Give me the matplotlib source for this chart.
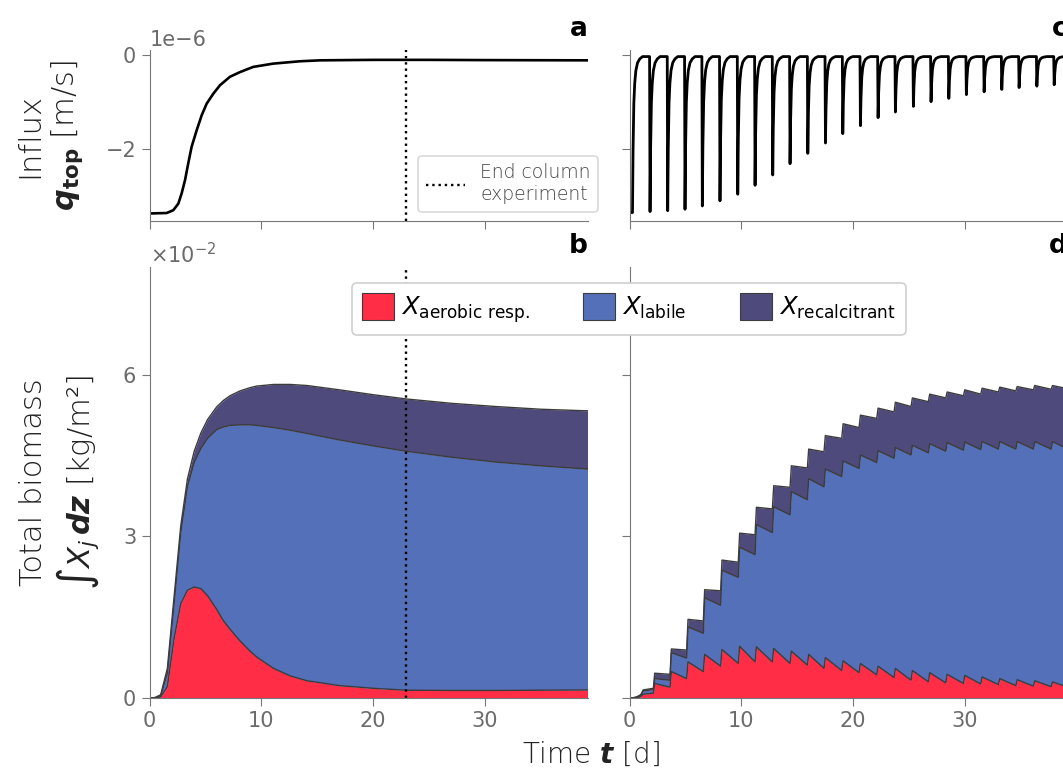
import matplotlib
matplotlib.use("Agg")
import matplotlib.pyplot as plt
from matplotlib.ticker import ScalarFormatter, FixedLocator

# ---- panel a: influx during column experiment, units of 1e-6 m/s
a_time = [0, 1.54, 2.13, 2.58, 2.88, 3.18, 3.47, 3.77, 4.22, 4.67, 5.12, 5.71,
          6.31, 7.2, 8.1, 9.28, 11.07, 13.46, 15.25, 20.0, 25.0, 30.0, 39.2]
a_qtop = [-3.38, -3.37, -3.31, -3.17, -2.95, -2.67, -2.31, -1.96, -1.61, -1.29,
          -1.04, -0.83, -0.65, -0.47, -0.37, -0.26, -0.19, -0.14, -0.12, -0.11,
          -0.11, -0.115, -0.12]
end_column = 23.0

# ---- panel c: pulsed influx (troughs of each pulse), units of 1e-6 m/s
c_trough_t = [1.82, 3.40, 4.95, 6.50, 8.08, 9.67, 11.22, 12.80, 14.35, 15.94,
              17.52, 19.07, 20.65, 22.23, 23.78, 25.39, 26.97, 28.56, 30.13,
              31.72, 33.30, 34.85, 36.44, 37.99]
c_trough_q = [-3.34, -3.32, -3.29, -3.22, -3.11, -2.97, -2.78, -2.56, -2.32,
              -2.10, -1.88, -1.68, -1.51, -1.34, -1.22, -1.10, -1.00, -0.93,
              -0.85, -0.79, -0.74, -0.70, -0.67, -0.64]
c_start_q = -3.36
c_plateau = -0.04
# recovery after each trough (days after trough, fraction of depth left)
spike_dt = [0, 0.05, 0.12, 0.2, 0.3, 0.45, 0.65, 0.9]
spike_frac = [1, 0.6, 0.3, 0.17, 0.09, 0.04, 0.015, 0]

# ---- panel b: total biomass, units of 1e-2 kg/m2 (top of each stacked layer)
b_time = [0, 0.5, 1.0, 1.6, 2.2, 2.8, 3.4, 4.0, 4.6, 5.2, 6.0, 6.6, 7.2, 8.1,
          9.0, 9.6, 11.1, 12.6, 14.1, 17.0, 20.0, 23.0, 27.0, 31.0, 35.0, 39.2]
b_aerobic_top = [0, 0, 0.02, 0.21, 1.10, 1.75, 2.00, 2.06, 2.03, 1.90, 1.65,
                 1.44, 1.28, 1.06, 0.87, 0.76, 0.55, 0.41, 0.32, 0.23, 0.18,
                 0.145, 0.14, 0.14, 0.145, 0.15]
b_labile_top = [0, 0.005, 0.04, 0.46, 1.75, 3.08, 3.93, 4.37, 4.63, 4.82, 4.98,
                5.03, 5.06, 5.07, 5.07, 5.06, 5.02, 4.97, 4.91, 4.79, 4.68,
                4.58, 4.47, 4.38, 4.31, 4.25]
b_total = [0, 0.01, 0.06, 0.55, 1.88, 3.20, 4.07, 4.58, 4.92, 5.17, 5.40, 5.52,
           5.61, 5.70, 5.76, 5.79, 5.82, 5.82, 5.80, 5.72, 5.63, 5.55, 5.47,
           5.41, 5.36, 5.33]

# ---- panel d: pulsed biomass, units of 1e-2 kg/m2
d_init_t = [0, 0.3, 0.6, 0.9, 1.05, 1.2]
d_init_aer = [0, 0, 0.005, 0.02, 0.04, 0.07]
d_init_lab = [0, 0.002, 0.015, 0.04, 0.07, 0.13]
d_init_tot = [0, 0.003, 0.02, 0.05, 0.08, 0.15]
d_init_end = [0.09, 0.16, 0.18]  # aer, lab, tot just before first big pulse
d_jump_t = [2.12, 3.61, 5.10, 6.59, 8.14, 9.72, 11.22, 12.77, 14.35, 15.90,
            17.39, 18.98, 20.53, 22.11, 23.66, 25.18, 26.73, 28.29, 29.87,
            31.42, 33.00, 34.56, 36.13, 37.72]
d_aer_after = [0.27, 0.49, 0.67, 0.81, 0.90, 0.96, 0.95, 0.92, 0.87, 0.81,
               0.75, 0.69, 0.64, 0.59, 0.55, 0.51, 0.47, 0.44, 0.42, 0.39,
               0.36, 0.34, 0.32, 0.30]
d_aer_before = [0.20, 0.36, 0.49, 0.59, 0.64, 0.67, 0.67, 0.64, 0.61, 0.55,
                0.51, 0.47, 0.43, 0.38, 0.33, 0.30, 0.28, 0.27, 0.26, 0.25,
                0.23, 0.22, 0.21, 0.20]
d_lab_after = [0.36, 0.84, 1.32, 1.86, 2.37, 2.80, 3.22, 3.55, 3.83, 4.07,
               4.25, 4.40, 4.51, 4.59, 4.65, 4.69, 4.72, 4.74, 4.75, 4.76,
               4.76, 4.76, 4.76, 4.76]
d_lab_before = [0.33, 0.74, 1.20, 1.72, 2.24, 2.66, 3.07, 3.40, 3.68, 3.92,
                4.11, 4.26, 4.37, 4.45, 4.51, 4.55, 4.58, 4.60, 4.61, 4.62,
                4.62, 4.62, 4.62, 4.62]
d_tot_after = [0.46, 0.91, 1.46, 2.01, 2.56, 3.06, 3.54, 3.94, 4.31, 4.62,
               4.87, 5.09, 5.25, 5.38, 5.49, 5.57, 5.64, 5.68, 5.72, 5.75,
               5.77, 5.78, 5.80, 5.80]
d_tot_before = [0.44, 0.89, 1.43, 1.99, 2.52, 3.03, 3.51, 3.91, 4.27, 4.57,
                4.82, 5.02, 5.19, 5.31, 5.41, 5.50, 5.57, 5.61, 5.64, 5.68,
                5.70, 5.72, 5.73, 5.74]

t_end = 39.2
q_scale = 1e-6
bio_scale = 1e-2
labels = [r'$X_\mathrm{aerobic\ resp.}$', r'$X_\mathrm{labile}$',
          r'$X_\mathrm{recalcitrant}$']
colors = ['#ff2d46', '#5470b8', '#4e4a7c']
edge = '#3c3c3c'
gray = '#6b6b6b'
thin = 200  # extra-light text weight

plt.rcParams['font.family'] = ['DejaVu Sans']
plt.rcParams['axes.edgecolor'] = '#777777'
plt.rcParams['xtick.color'] = '#777777'
plt.rcParams['ytick.color'] = '#777777'
plt.rcParams['xtick.labelcolor'] = gray
plt.rcParams['ytick.labelcolor'] = gray
plt.rcParams['xtick.labelsize'] = 15
plt.rcParams['ytick.labelsize'] = 15
plt.rcParams['xtick.major.size'] = 6
plt.rcParams['ytick.major.size'] = 6

W, H = 1063, 770
fig = plt.figure(figsize=(W / 100, H / 100), dpi=100)


def box(l, r, t, b):
    return [l / W, 1 - b / H, (r - l) / W, (b - t) / H]


ax_a = fig.add_axes(box(149.5, 587.5, 50, 221))
ax_c = fig.add_axes(box(629.7, 1067.7, 50, 221))
ax_b = fig.add_axes(box(149.5, 587.5, 267, 698))
ax_d = fig.add_axes(box(629.7, 1067.7, 267, 698))

for ax in (ax_a, ax_b, ax_c, ax_d):
    ax.spines['top'].set_visible(False)
    ax.spines['right'].set_visible(False)
    ax.set_xlim(0, t_end)
    ax.xaxis.set_major_locator(FixedLocator([0, 10, 20, 30]))

# ---- a
ax_a.plot(a_time, [q * q_scale for q in a_qtop], color='black', lw=1.9)
ax_a.axvline(end_column, color='black', ls=':', lw=1.7,
             label='End column\nexperiment')
ax_a.set_ylim(-3.54e-6, 0.1e-6)
ax_a.yaxis.set_major_locator(FixedLocator([-2e-6, 0]))
ax_a.tick_params(labelbottom=False)
ax_a.yaxis.get_offset_text().set_fontsize(15)
ax_a.yaxis.get_offset_text().set_color(gray)
ax_a.set_ylabel('Influx\n' + r'$\boldsymbol{q}_\mathbf{top}$ [m/s]',
                fontsize=22, fontweight=thin, color='#222222', labelpad=15)
leg = ax_a.legend(loc='lower right', bbox_to_anchor=(598 / W, 1 - 212 / H),
                  bbox_transform=fig.transFigure, borderaxespad=0,
                  handlelength=2.1, frameon=True,
                  prop={'weight': thin, 'size': 13.5})
leg.get_frame().set_edgecolor('#d0d0d0')
leg.get_frame().set_linewidth(1.2)
for txt in leg.get_texts():
    txt.set_color('#444444')
ax_a.set_title('a', loc='right', fontsize=19, fontweight='bold', pad=10)

# ---- c
c_t = [0, 0.25]
c_q = [c_start_q, c_start_q]
for dt, fr in zip(spike_dt[1:], spike_frac[1:]):
    c_t.append(0.25 + dt)
    c_q.append(c_plateau + (c_start_q - c_plateau) * fr)
for tk, qk in zip(c_trough_t, c_trough_q):
    c_t.append(tk - 0.04)
    c_q.append(c_plateau)
    for dt, fr in zip(spike_dt, spike_frac):
        c_t.append(tk + dt)
        c_q.append(c_plateau + (qk - c_plateau) * fr)
c_t.append(t_end)
c_q.append(c_plateau)
ax_c.plot(c_t, [q * q_scale for q in c_q], color='black', lw=2.0)
ax_c.set_ylim(ax_a.get_ylim())
ax_c.yaxis.set_major_locator(FixedLocator([-2e-6, 0]))
ax_c.tick_params(labelbottom=False, labelleft=False)
ax_c.yaxis.get_offset_text().set_visible(False)
ax_c.set_title('c', loc='right', fontsize=19, fontweight='bold', pad=10)

# ---- b
b_t = b_time
lay0 = [0 * v for v in b_aerobic_top]
lay1 = [v * bio_scale for v in b_aerobic_top]
lay2 = [v * bio_scale for v in b_labile_top]
lay3 = [v * bio_scale for v in b_total]
ax_b.fill_between(b_t, lay0, lay1, color=colors[0], lw=0, label=labels[0])
ax_b.fill_between(b_t, lay1, lay2, color=colors[1], lw=0, label=labels[1])
ax_b.fill_between(b_t, lay2, lay3, color=colors[2], lw=0, label=labels[2])
for lay in (lay1, lay2, lay3):
    ax_b.plot(b_t, lay, color=edge, lw=1.0)
ax_b.axvline(end_column, color='black', ls=':', lw=1.7, zorder=5)
ax_b.set_ylim(0, 8e-2)
ax_b.yaxis.set_major_locator(FixedLocator([0, 3e-2, 6e-2]))
fmt = ScalarFormatter(useMathText=True)
fmt.set_powerlimits((0, 0))
ax_b.yaxis.set_major_formatter(fmt)
ax_b.yaxis.get_offset_text().set_fontsize(15)
ax_b.yaxis.get_offset_text().set_color(gray)
ax_b.set_ylabel('Total biomass\n' + r'$\int X_j\,\boldsymbol{dz}$ [kg/m²]',
                fontsize=22, fontweight=thin, color='#222222', labelpad=15)
ax_b.set_title('b', loc='right', fontsize=19, fontweight='bold', pad=10)

# ---- d
d_t = list(d_init_t)
d_aer = list(d_init_aer)
d_lab = list(d_init_lab)
d_tot = list(d_init_tot)
prev = d_init_end
for k, tk in enumerate(d_jump_t):
    d_t += [tk, tk + 0.12]
    d_aer += [prev[0], d_aer_after[k]]
    d_lab += [prev[1], d_lab_after[k]]
    d_tot += [prev[2], d_tot_after[k]]
    prev = (d_aer_before[k], d_lab_before[k], d_tot_before[k])
d_t.append(t_end)
d_aer.append(prev[0])
d_lab.append(prev[1])
d_tot.append(prev[2])
e1 = [v * bio_scale for v in d_aer]
e2 = [v * bio_scale for v in d_lab]
e3 = [v * bio_scale for v in d_tot]
ax_d.fill_between(d_t, [0] * len(d_t), e1, color=colors[0], lw=0)
ax_d.fill_between(d_t, e1, e2, color=colors[1], lw=0)
ax_d.fill_between(d_t, e2, e3, color=colors[2], lw=0)
for lay in (e1, e2, e3):
    ax_d.plot(d_t, lay, color=edge, lw=1.0)
ax_d.set_ylim(0, 8e-2)
ax_d.yaxis.set_major_locator(FixedLocator([0, 3e-2, 6e-2]))
ax_d.tick_params(labelleft=False)
ax_d.set_title('d', loc='right', fontsize=19, fontweight='bold', pad=10)

# shared legend for the biomass panels
handles, hl = ax_b.get_legend_handles_labels()
handles = [h for h, l in zip(handles, hl) if l in labels]
lg = fig.legend(handles, labels, loc='center', ncol=3,
                bbox_to_anchor=(629 / W, 1 - 309 / H), fontsize=17.5,
                handlelength=1.3, handleheight=1.3, columnspacing=2.2,
                handletextpad=0.3, framealpha=1)
lg.get_frame().set_edgecolor('#d0d0d0')
lg.get_frame().set_linewidth(1.2)
for h in lg.legend_handles:
    h.set_edgecolor(edge)
    h.set_linewidth(0.8)

fig.text(591 / W, 1 - 755 / H, r'Time $\boldsymbol{t}$ [d]', fontsize=20,
         fontweight=thin, color='#222222', ha='center', va='center')

fig.savefig('out.png', dpi=100)
